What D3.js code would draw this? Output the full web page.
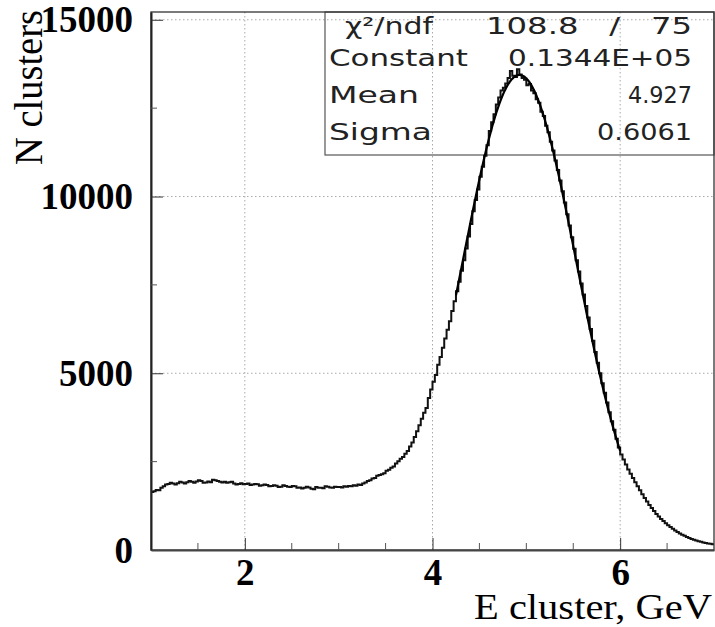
<!DOCTYPE html>
<html>
<head>
<meta charset="utf-8">
<script src="https://cdn.jsdelivr.net/npm/d3@7"></script>
<style>
  body { margin: 0; background: #fff; }
  svg { display: block; }
</style>
</head>
<body>
<svg width="715" height="627"></svg>
<script>
// histogram: 240 bins of 0.025 GeV from 1 to 7
const binStart = 1, binWidth = 0.025;
const counts = [
  1640, 1660, 1700, 1690, 1760, 1800, 1850, 1870,
  1900, 1880, 1850, 1890, 1930, 1910, 1880, 1920,
  1950, 1930, 1900, 1940, 1970, 1950, 1900, 1910,
  1940, 1920, 1990, 1970, 1950, 1930, 1910, 1930,
  1900, 1920, 1930, 1880, 1850, 1870, 1890, 1860,
  1870, 1880, 1840, 1850, 1870, 1860, 1820, 1830,
  1850, 1840, 1800, 1810, 1830, 1820, 1780, 1790,
  1830, 1810, 1790, 1780, 1810, 1800, 1760, 1770,
  1740, 1760, 1790, 1770, 1730, 1720, 1780, 1760,
  1760, 1750, 1800, 1790, 1770, 1760, 1790, 1780,
  1780, 1770, 1800, 1790, 1810, 1800, 1830, 1820,
  1850, 1840, 1880, 1910, 1950, 1970, 2020, 2040,
  2100, 2120, 2140, 2170, 2240, 2270, 2330, 2360,
  2450, 2510, 2580, 2630, 2720, 2800, 2930, 3040,
  3200, 3360, 3530, 3710, 3880, 4020, 4300, 4540,
  4760, 4950, 5240, 5460, 5720, 5980, 6230, 6470,
  6760, 7040, 7320, 7590, 7900, 8200, 8530, 8870,
  9220, 9580, 9900, 10200, 10560, 10840, 11150, 11450,
  11850, 12100, 12330, 12600, 12800, 13000, 13080, 13200,
  13350, 13550, 13420, 13380, 13600, 13450, 13350, 13300,
  13150, 13180, 13000, 12920, 12750, 12650, 12400, 12280,
  12000, 11820, 11550, 11300, 11020, 10750, 10450, 10150,
  9830, 9500, 9180, 8850, 8520, 8200, 7880, 7540,
  7230, 6900, 6580, 6250, 5920, 5600, 5300, 5000,
  4720, 4450, 4170, 3900, 3640, 3400, 3150, 2900,
  2700, 2560, 2420, 2280, 2160, 2040, 1920, 1800,
  1690, 1580, 1470, 1370, 1270, 1190, 1100, 1020,
  950, 880, 820, 760, 700, 650, 600, 550,
  510, 470, 430, 400, 370, 340, 310, 290,
  270, 250, 230, 215, 200, 185, 175, 165
];

// gaussian fit (from stats box)
const fitConstant = 13440, fitMean = 4.927, fitSigma = 0.6061;
const fitRange = [4.25, 6.0];

const xTicks = [2, 4, 6];
const xMinor = [1.5, 2.5, 3, 3.5, 4.5, 5, 5.5, 6.5];
const yTicks = [0, 5000, 10000, 15000];
const yMinor = [2500, 7500, 12500];

const statLabels = ["χ²/ndf", "Constant", "Mean", "Sigma"];
const statValues = ["108.8   /   75", "0.1344E+05", "4.927", "0.6061"];

const svg = d3.select("svg");
const pl = 151, pr = 714, pt = 12, pb = 550;

const x = d3.scaleLinear().domain([1, 7]).range([pl, pr]);
const y = d3.scaleLinear().domain([0, 15220]).range([pb, pt]);

// grid
const grid = svg.append("g")
  .attr("stroke", "#aaa")
  .attr("stroke-width", 1)
  .attr("stroke-dasharray", "1.5,2.5");
grid.selectAll(".gx").data(xTicks).join("line")
  .attr("x1", d => x(d)).attr("x2", d => x(d))
  .attr("y1", pt).attr("y2", pb);
grid.selectAll(".gy").data(yTicks.filter(d => d > 0)).join("line")
  .attr("x1", pl).attr("x2", pr)
  .attr("y1", d => y(d)).attr("y2", d => y(d));

// stats box
const box = svg.append("g");
box.append("rect")
  .attr("x", 325).attr("y", pt)
  .attr("width", pr - 325).attr("height", 155 - pt)
  .attr("fill", "none").attr("stroke", "#555").attr("stroke-width", 1.2);
const rowY = [34, 66, 103, 140];
const labelLen = [88, 139, 90, 103];
box.selectAll(".sl").data(statLabels).join("text")
  .attr("x", (d, i) => i === 0 ? 345 : 329)
  .attr("y", (d, i) => rowY[i])
  .attr("font-family", "DejaVu Sans, sans-serif")
  .attr("font-size", 23)
  .attr("fill", "#222")
  .attr("textLength", (d, i) => labelLen[i])
  .attr("lengthAdjust", "spacingAndGlyphs")
  .text(d => d);
const valueLen = [206, 184, 64, 95];
box.selectAll(".sv").data(statValues).join("text")
  .attr("x", 692)
  .attr("y", (d, i) => rowY[i])
  .attr("text-anchor", "end")
  .attr("font-family", "DejaVu Sans, sans-serif")
  .attr("font-size", 23)
  .attr("fill", "#222")
  .style("white-space", "pre")
  .attr("textLength", (d, i) => valueLen[i])
  .attr("lengthAdjust", "spacingAndGlyphs")
  .text(d => d);

// clip
svg.append("clipPath").attr("id", "plot")
  .append("rect").attr("x", pl).attr("y", pt)
  .attr("width", pr - pl).attr("height", pb - pt);

// histogram steps
const pts = counts.map((c, i) => [binStart + i * binWidth, c]);
pts.push([binStart + counts.length * binWidth, counts[counts.length - 1]]);
svg.append("path")
  .datum(pts)
  .attr("clip-path", "url(#plot)")
  .attr("fill", "none")
  .attr("stroke", "#111")
  .attr("stroke-width", 2)
  .attr("d", d3.line().x(d => x(d[0])).y(d => y(d[1])).curve(d3.curveStepAfter));

// fit curve
const fitX = d3.range(fitRange[0], fitRange[1] + 0.001, 0.01);
svg.append("path")
  .datum(fitX)
  .attr("clip-path", "url(#plot)")
  .attr("fill", "none")
  .attr("stroke", "#000")
  .attr("stroke-width", 2.2)
  .attr("d", d3.line()
    .x(d => x(d))
    .y(d => y(fitConstant * Math.exp(-0.5 * Math.pow((d - fitMean) / fitSigma, 2))))
    .curve(d3.curveBasis));

// frame
svg.append("rect")
  .attr("x", pl).attr("y", pt)
  .attr("width", pr - pl).attr("height", pb - pt)
  .attr("fill", "none").attr("stroke", "#333").attr("stroke-width", 1.3);

// axes
const yAxis = svg.append("g")
  .attr("transform", `translate(${pl},0)`)
  .call(d3.axisLeft(y).tickValues(yTicks).tickFormat(d3.format("d"))
    .tickSize(-12).tickSizeOuter(0).tickPadding(18));
yAxis.selectAll(".tick line").attr("stroke", "#333");
yAxis.select(".domain").attr("stroke", "#222").attr("stroke-width", 2);
yAxis.selectAll("text")
  .attr("font-family", "Liberation Serif, Times New Roman, serif")
  .attr("font-weight", "bold")
  .attr("font-size", 37)
  .attr("fill", "#000")
  .attr("dy", "0.33em");
svg.append("g").selectAll("line").data(yMinor).join("line")
  .attr("x1", pl).attr("x2", pl + 6)
  .attr("y1", d => y(d)).attr("y2", d => y(d))
  .attr("stroke", "#555");

const xAxis = svg.append("g")
  .attr("transform", `translate(0,${pb})`)
  .call(d3.axisBottom(x).tickValues(xTicks).tickFormat(d3.format("d"))
    .tickSize(-12).tickSizeOuter(0).tickPadding(9));
xAxis.selectAll(".tick line").attr("stroke", "#333");
xAxis.select(".domain").attr("stroke", "#444").attr("stroke-width", 2);
xAxis.selectAll("text")
  .attr("font-family", "Liberation Serif, Times New Roman, serif")
  .attr("font-weight", "bold")
  .attr("font-size", 37)
  .attr("fill", "#000");
svg.append("g").selectAll("line").data(xMinor).join("line")
  .attr("x1", d => x(d)).attr("x2", d => x(d))
  .attr("y1", pb).attr("y2", pb - 7)
  .attr("stroke", "#555");

// axis titles
svg.append("text")
  .attr("x", 712).attr("y", 619)
  .attr("text-anchor", "end")
  .attr("font-family", "Liberation Serif, Times New Roman, serif")
  .attr("font-size", 35)
  .attr("textLength", 238)
  .attr("lengthAdjust", "spacingAndGlyphs")
  .text("E cluster, GeV");
svg.append("text")
  .attr("transform", "translate(42,165) rotate(-90)")
  .attr("font-family", "Liberation Serif, Times New Roman, serif")
  .attr("font-size", 40)
  .attr("textLength", 155)
  .attr("lengthAdjust", "spacingAndGlyphs")
  .text("N clusters");
</script>
</body>
</html>
